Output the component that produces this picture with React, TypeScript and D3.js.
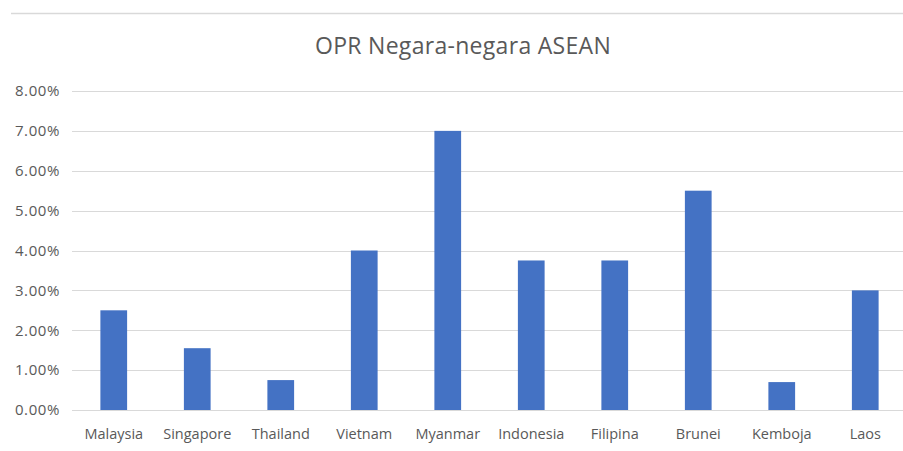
import { useEffect, useRef } from 'react';
import * as d3 from 'd3';

const countries = ['Malaysia', 'Singapore', 'Thailand', 'Vietnam', 'Myanmar', 'Indonesia', 'Filipina', 'Brunei', 'Kemboja', 'Laos'];
const oprRates = [0.025, 0.0155, 0.0075, 0.04, 0.07, 0.0375, 0.0375, 0.055, 0.007, 0.03];
const yTicks = [0, 0.01, 0.02, 0.03, 0.04, 0.05, 0.06, 0.07, 0.08];
const chartTitle = 'OPR Negara-negara ASEAN';

const App = () => {
  const ref = useRef<SVGSVGElement>(null);
  const width = 903;
  const height = 451;
  const margin = { top: 91, right: -4, bottom: 41, left: 72 };

  useEffect(() => {
    document.body.style.margin = '0';
    const svg = d3.select(ref.current);
    svg.selectAll('*').remove();

    const x = d3
      .scaleBand()
      .domain(countries)
      .range([margin.left, width - margin.right])
      .paddingInner(0.68)
      .paddingOuter(0.34);
    const y = d3
      .scaleLinear()
      .domain([0, 0.08])
      .range([height - margin.bottom, margin.top]);

    // outer frame line on top
    svg.append('line')
      .attr('x1', 11).attr('x2', width)
      .attr('y1', 13.5).attr('y2', 13.5)
      .attr('stroke', '#d9d9d9').attr('stroke-width', 1.5);

    svg.append('text')
      .attr('x', 463).attr('y', 54)
      .attr('text-anchor', 'middle')
      .attr('font-family', 'Open Sans, sans-serif')
      .attr('font-size', 23)
      .attr('letter-spacing', 0.3)
      .attr('fill', '#595959')
      .text(chartTitle);

    const grid = svg.append('g');
    grid.selectAll('line')
      .data(yTicks)
      .join('line')
      .attr('x1', margin.left).attr('x2', width)
      .attr('y1', (d) => Math.round(y(d)) + 0.5)
      .attr('y2', (d) => Math.round(y(d)) + 0.5)
      .attr('stroke', '#d9d9d9').attr('stroke-width', 1.2);

    const yAxis = svg.append('g')
      .attr('transform', `translate(${margin.left - 12},0)`)
      .call(d3.axisLeft(y).tickValues(yTicks).tickFormat(d3.format('.2%')).tickSize(0).tickPadding(0));
    yAxis.select('.domain').remove();
    yAxis.selectAll('text')
      .attr('font-family', 'Open Sans, sans-serif')
      .attr('font-size', 15)
      .attr('letter-spacing', 0.6)
      .attr('fill', '#595959');

    svg.append('g')
      .selectAll('rect')
      .data(oprRates)
      .join('rect')
      .attr('x', (d, i) => x(countries[i]))
      .attr('y', (d) => y(d))
      .attr('width', x.bandwidth())
      .attr('height', (d) => y(0) - y(d))
      .attr('fill', '#4472c4');

    const xAxis = svg.append('g')
      .attr('transform', `translate(0,${height - margin.bottom})`)
      .call(d3.axisBottom(x).tickSize(0).tickPadding(19));
    xAxis.select('.domain').remove();
    xAxis.selectAll('text')
      .attr('font-family', 'Open Sans, sans-serif')
      .attr('font-size', 14.5)
      .attr('fill', '#595959');
  }, []);

  return (
    <svg ref={ref} width={width} height={height} style={{ display: 'block', background: '#fff' }} />
  );
};

export default App;
